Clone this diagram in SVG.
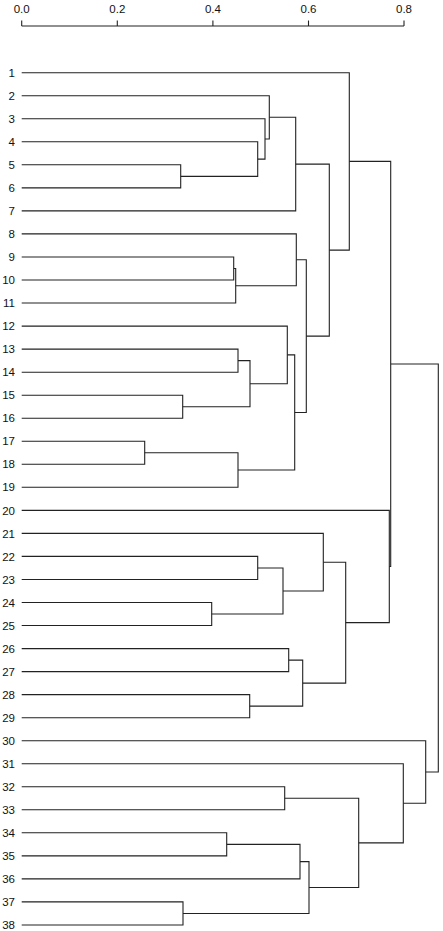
<svg xmlns="http://www.w3.org/2000/svg" width="443" height="931" viewBox="0 0 443 931">
<style>
text{font-family:"Liberation Sans",Arial,sans-serif;font-size:11.5px;fill:#111}
.lbl{text-anchor:end}
.ax{text-anchor:middle}
path,line{fill:none;stroke:#222;stroke-width:1.1}
</style>
<rect width="443" height="931" fill="#fff"/>
<g id="axis">
<line x1="21.7" y1="26" x2="404" y2="26"/>
<line x1="21.7" y1="20.5" x2="21.7" y2="26"/>
<line x1="117.3" y1="20.5" x2="117.3" y2="26"/>
<line x1="212.9" y1="20.5" x2="212.9" y2="26"/>
<line x1="308.5" y1="20.5" x2="308.5" y2="26"/>
<line x1="404" y1="20.5" x2="404" y2="26"/>
<text class="ax" x="21.7" y="13">0.0</text>
<text class="ax" x="117.3" y="13">0.2</text>
<text class="ax" x="212.9" y="13">0.4</text>
<text class="ax" x="308.5" y="13">0.6</text>
<text class="ax" x="404" y="13">0.8</text>
</g>
<g id="leaf-labels">
<g id="n1"><text class="lbl" x="15" y="76.8">1</text></g>
<g id="n2"><text class="lbl" x="15" y="99.8">2</text></g>
<g id="n3"><text class="lbl" x="15" y="122.9">3</text></g>
<g id="n4"><text class="lbl" x="15" y="145.9">4</text></g>
<g id="n5"><text class="lbl" x="15" y="168.9">5</text></g>
<g id="n6"><text class="lbl" x="15" y="192">6</text></g>
<g id="n7"><text class="lbl" x="15" y="215">7</text></g>
<g id="n8"><text class="lbl" x="15" y="238">8</text></g>
<g id="n9"><text class="lbl" x="15" y="261.1">9</text></g>
<g id="n10"><text class="lbl" x="15" y="284.1">10</text></g>
<g id="n11"><text class="lbl" x="15" y="307.1">11</text></g>
<g id="n12"><text class="lbl" x="15" y="330.2">12</text></g>
<g id="n13"><text class="lbl" x="15" y="353.2">13</text></g>
<g id="n14"><text class="lbl" x="15" y="376.3">14</text></g>
<g id="n15"><text class="lbl" x="15" y="399.3">15</text></g>
<g id="n16"><text class="lbl" x="15" y="422.3">16</text></g>
<g id="n17"><text class="lbl" x="15" y="445.4">17</text></g>
<g id="n18"><text class="lbl" x="15" y="468.4">18</text></g>
<g id="n19"><text class="lbl" x="15" y="491.4">19</text></g>
<g id="n20"><text class="lbl" x="15" y="514.5">20</text></g>
<g id="n21"><text class="lbl" x="15" y="537.5">21</text></g>
<g id="n22"><text class="lbl" x="15" y="560.5">22</text></g>
<g id="n23"><text class="lbl" x="15" y="583.6">23</text></g>
<g id="n24"><text class="lbl" x="15" y="606.6">24</text></g>
<g id="n25"><text class="lbl" x="15" y="629.6">25</text></g>
<g id="n26"><text class="lbl" x="15" y="652.7">26</text></g>
<g id="n27"><text class="lbl" x="15" y="675.7">27</text></g>
<g id="n28"><text class="lbl" x="15" y="698.7">28</text></g>
<g id="n29"><text class="lbl" x="15" y="721.8">29</text></g>
<g id="n30"><text class="lbl" x="15" y="744.8">30</text></g>
<g id="n31"><text class="lbl" x="15" y="767.8">31</text></g>
<g id="n32"><text class="lbl" x="15" y="790.9">32</text></g>
<g id="n33"><text class="lbl" x="15" y="813.9">33</text></g>
<g id="n34"><text class="lbl" x="15" y="836.9">34</text></g>
<g id="n35"><text class="lbl" x="15" y="860">35</text></g>
<g id="n36"><text class="lbl" x="15" y="883">36</text></g>
<g id="n37"><text class="lbl" x="15" y="906">37</text></g>
<g id="n38"><text class="lbl" x="15" y="929.1">38</text></g>
</g>
<g id="connectors">
<path d="M21.7 164.8H180.7V187.9H21.7"/>
<path d="M21.7 141.8H257.7V176.35H180.7"/>
<path d="M21.7 118.8H265V159.1H257.7"/>
<path d="M21.7 95.7H269.3V138.95H265"/>
<path d="M269.3 117.3H295.7V210.9H21.7"/>
<path d="M21.7 257H233.7V280H21.7"/>
<path d="M233.7 268.5H235.7V303H21.7"/>
<path d="M21.7 233.9H296.3V285.75H235.7"/>
<path d="M21.7 349.1H238V372.2H21.7"/>
<path d="M21.7 395.2H182.7V418.2H21.7"/>
<path d="M238 360.65H250V406.7H182.7"/>
<path d="M21.7 326.1H287.3V383.7H250"/>
<path d="M21.7 441.3H144.7V464.3H21.7"/>
<path d="M144.7 452.8H238V487.3H21.7"/>
<path d="M287.3 354.9H294.7V470.05H238"/>
<path d="M296.3 259.8H306.3V412.5H294.7"/>
<path d="M295.7 164.1H329.3V336.15H306.3"/>
<path d="M21.7 72.7H349.3V250.1H329.3"/>
<path d="M21.7 556.4H257.7V579.5H21.7"/>
<path d="M21.7 602.5H211.7V625.5H21.7"/>
<path d="M257.7 567.95H283V614H211.7"/>
<path d="M21.7 533.4H323.3V591H283"/>
<path d="M21.7 648.6H288.7V671.6H21.7"/>
<path d="M21.7 694.6H249.7V717.7H21.7"/>
<path d="M288.7 660.1H302.7V706.15H249.7"/>
<path d="M323.3 562.2H345.7V683.1H302.7"/>
<path d="M21.7 510.4H389.3V622.65H345.7"/>
<path d="M349.3 161.4H390.7V566.5H389.3"/>
<path d="M21.7 786.8H284.7V809.8H21.7"/>
<path d="M21.7 832.8H226.7V855.9H21.7"/>
<path d="M226.7 844.35H300V878.9H21.7"/>
<path d="M21.7 901.9H183V925H21.7"/>
<path d="M300 861.6H309V913.45H183"/>
<path d="M284.7 798.3H358.7V887.5H309"/>
<path d="M21.7 763.7H403.3V842.9H358.7"/>
<path d="M21.7 740.7H425.7V803.3H403.3"/>
<path d="M390.7 363.95H438.3V772H425.7"/>
</g>
</svg>
